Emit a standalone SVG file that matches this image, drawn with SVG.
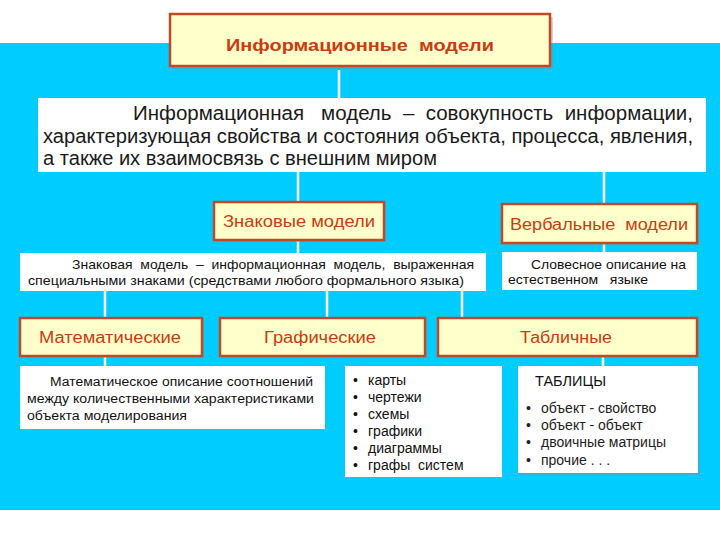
<svg xmlns="http://www.w3.org/2000/svg" width="720" height="540" viewBox="0 0 720 540">
<style>
.yb{fill:#FFFFCC;stroke:#C24A22;stroke-width:2.5}
.wb{fill:#FFFFFF;stroke:none}
.sh{fill:#7A8A99;opacity:0.35}
.yt{font-family:"Liberation Sans",Arial,sans-serif;fill:#CC3A10;font-size:16px;text-anchor:middle}
.dt{font-family:"Liberation Sans",Arial,sans-serif;fill:#1a1a1a;font-size:20px}
.st{font-family:"Liberation Sans",Arial,sans-serif;fill:#111;font-size:13px}
.lt{font-family:"Liberation Sans",Arial,sans-serif;fill:#111;font-size:14px}
.cn{stroke:#FFFFFF;stroke-width:2.5;fill:none}
</style>
<rect x="0" y="0" width="720" height="540" fill="#FFFFFF"/>
<rect x="0" y="43" width="720" height="467" fill="#00CCFF"/>
<g id="connectors">
<line class="cn" x1="339" y1="70" x2="339" y2="98"/>
<line class="cn" x1="298" y1="172" x2="298" y2="202"/>
<line class="cn" x1="604" y1="172" x2="604" y2="204"/>
<line class="cn" x1="298" y1="240" x2="298" y2="253"/>
<line class="cn" x1="604" y1="243" x2="604" y2="252"/>
<line class="cn" x1="105" y1="291" x2="105" y2="318"/>
<line class="cn" x1="327" y1="280" x2="327" y2="318"/>
<line class="cn" x1="462" y1="291" x2="462" y2="318"/>
<line class="cn" x1="105" y1="356" x2="105" y2="366"/>
<line class="cn" x1="603" y1="356" x2="603" y2="366"/>
</g>
<g id="title">
<rect class="sh" x="172" y="17" width="381" height="52"/>
<rect class="yb" x="170" y="14" width="380" height="52"/>
<text x="360" y="51" class="yt" style="font-weight:bold;font-size:17px" textLength="268" lengthAdjust="spacingAndGlyphs" xml:space="preserve">Информационные  модели</text>
</g>
<g id="definition">
<rect class="wb" x="38" y="98" width="668" height="74"/>
<text class="dt" x="133" y="120" textLength="560" lengthAdjust="spacingAndGlyphs" xml:space="preserve">Информационная   модель  –  совокупность  информации,</text>
<text class="dt" x="43" y="143" textLength="650" lengthAdjust="spacingAndGlyphs">характеризующая свойства и состояния объекта, процесса, явления,</text>
<text class="dt" x="43" y="165" textLength="394" lengthAdjust="spacingAndGlyphs">а также их взаимосвязь с внешним миром</text>
</g>
<g id="znak">
<rect class="sh" x="216" y="204" width="170" height="38"/>
<rect class="yb" x="214" y="202" width="170" height="38"/>
<text x="299" y="227" class="yt" textLength="152" lengthAdjust="spacingAndGlyphs">Знаковые модели</text>
</g>
<g id="verb">
<rect class="sh" x="504" y="206" width="195" height="39"/>
<rect class="yb" x="502" y="204" width="195" height="39"/>
<text x="599" y="230" class="yt" textLength="178" lengthAdjust="spacingAndGlyphs" xml:space="preserve">Вербальные  модели</text>
</g>
<g id="znak-def">
<rect class="wb" x="20" y="253" width="466" height="38"/>
<text class="st" x="72" y="269" textLength="402" lengthAdjust="spacingAndGlyphs" xml:space="preserve">Знаковая  модель  –  информационная  модель,  выраженная</text>
<text class="st" x="28" y="285" textLength="436" lengthAdjust="spacingAndGlyphs">специальными знаками (средствами любого формального языка)</text>
</g>
<g id="verb-def">
<rect class="wb" x="502" y="252" width="195" height="38"/>
<text class="st" x="531" y="269" textLength="155" lengthAdjust="spacingAndGlyphs">Словесное описание на</text>
<text class="st" x="508" y="284" textLength="140" lengthAdjust="spacingAndGlyphs" xml:space="preserve">естественном   языке</text>
</g>
<g id="math">
<rect class="sh" x="22" y="320" width="182" height="38"/>
<rect class="yb" x="20" y="318" width="182" height="38"/>
<text x="110" y="343" class="yt" textLength="142" lengthAdjust="spacingAndGlyphs">Математические</text>
</g>
<g id="graph">
<rect class="sh" x="222" y="320" width="205" height="38"/>
<rect class="yb" x="220" y="318" width="205" height="38"/>
<text x="320" y="343" class="yt" textLength="112" lengthAdjust="spacingAndGlyphs">Графические</text>
</g>
<g id="table">
<rect class="sh" x="440" y="320" width="259" height="38"/>
<rect class="yb" x="438" y="318" width="259" height="38"/>
<text x="566" y="343" class="yt" textLength="92" lengthAdjust="spacingAndGlyphs">Табличные</text>
</g>
<g id="math-def">
<rect class="wb" x="20" y="366" width="305" height="63"/>
<text class="st" x="50" y="386" style="font-size:12.5px" textLength="263" lengthAdjust="spacingAndGlyphs">Математическое описание соотношений</text>
<text class="st" x="27" y="403" style="font-size:12.5px" textLength="287" lengthAdjust="spacingAndGlyphs">между количественными характеристиками</text>
<text class="st" x="27" y="420" style="font-size:12.5px" textLength="160" lengthAdjust="spacingAndGlyphs">объекта моделирования</text>
</g>
<g id="graph-list">
<rect class="wb" x="345" y="366" width="157" height="111"/>
<g class="lt">
<text x="353" y="385">•</text><text x="368" y="385">карты</text>
<text x="353" y="402">•</text><text x="368" y="402">чертежи</text>
<text x="353" y="419">•</text><text x="368" y="419">схемы</text>
<text x="353" y="436">•</text><text x="368" y="436">графики</text>
<text x="353" y="453">•</text><text x="368" y="453">диаграммы</text>
<text x="353" y="470">•</text><text x="368" y="470" xml:space="preserve">графы  систем</text>
</g>
</g>
<g id="table-list">
<rect class="sh" x="520" y="368" width="180" height="107"/>
<rect class="wb" x="518" y="366" width="180" height="107"/>
<text class="lt" x="535" y="386" style="font-size:14.5px">ТАБЛИЦЫ</text>
<g class="lt" style="fill:#222">
<text x="526" y="413">•</text><text x="541" y="413">объект - свойство</text>
<text x="526" y="430">•</text><text x="541" y="430">объект - объект</text>
<text x="526" y="447">•</text><text x="541" y="447">двоичные матрицы</text>
<text x="526" y="465">•</text><text x="541" y="465">прочие . . .</text>
</g>
</g>
</svg>
